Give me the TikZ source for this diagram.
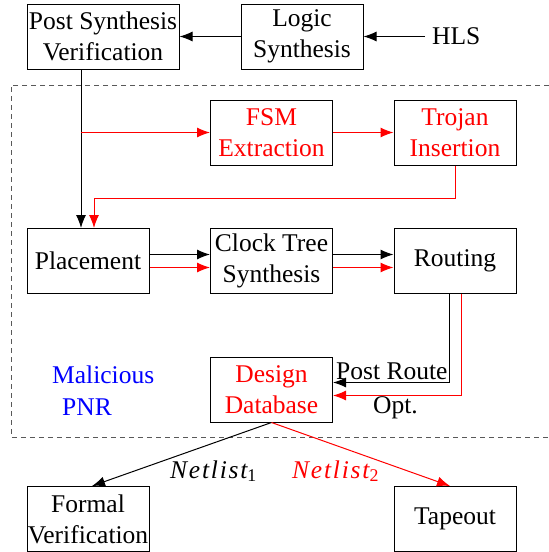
\documentclass[tikz,border=0pt]{standalone}
\usepackage{fontspec}
\setmainfont{Liberation Serif}
\usetikzlibrary{arrows.meta}
\newcommand{\netlab}[1]{{\itshape\addfontfeatures{LetterSpace=7}Netlist}\textsubscript{#1}}
\begin{document}
\begin{tikzpicture}[x=1pt,y=-1pt,
  txt/.style={font=\fontsize{25.5}{31}\selectfont},
  box/.style={txt, draw=black, line width=1pt, minimum width=122pt, minimum height=65pt, inner sep=0pt, align=center},
  lbl/.style={txt, inner sep=0pt},
  arr/.style={-{Latex[length=13pt,width=10pt]}, line width=1pt},
  blk/.style={arr, draw=black},
  rd/.style={arr, draw=red},
  frame/.style={draw=black!65, line width=1pt, dash pattern=on 5pt off 4pt}]
\useasboundingbox (0,0) rectangle (549,552);
% dashed region
\draw[frame] (549,85) -- (11,85) -- (11,437) -- (549,437);
% nodes
\node[box, minimum width=152pt] (psv) at (103,36.5) {Post Synthesis\\Verification};
\node[box] (ls) at (302,36.5) {Logic\\Synthesis};
\node[lbl, inner xsep=7pt, anchor=west] (hls) at (425,36.5) {HLS};
\node[box, text=red] (fsm) at (271.5,132.5) {FSM\\Extraction};
\node[box, text=red] (troj) at (455,132.5) {Trojan\\Insertion};
\node[box] (plc) at (88,261) {Placement};
\node[box] (cts) at (271.5,261) {Clock Tree\\Synthesis};
\node[box] (rout) at (455,261) {Routing};
\node[box, text=red] (ddb) at (271.5,389.5) {Design\\Database};
\node[box] (fv) at (88,519) {Formal\\Verification};
\node[box] (tap) at (455,519) {Tapeout};
\node[lbl, anchor=base west] (pr) at (336,379) {Post Route};
\node[lbl, anchor=base west] (opt) at (373,413) {Opt.};
\node[lbl, anchor=base west, text=blue] (mal) at (52,383) {Malicious};
\node[lbl, anchor=base west, text=blue] (pnr) at (62,415) {PNR};
\node[lbl, anchor=base west] (n1) at (170,478) {\netlab{1}};
\node[lbl, anchor=base west, text=red] (n2) at (292,478) {\netlab{2}};
% connectors
\draw[blk] (hls.west) -- (ls.east);
\draw[blk] (ls.west) -- (psv.east);
\coordinate (pin) at ([xshift=-7pt]plc.north);
\draw[blk] (psv.south -| pin) -- (pin);
\draw[rd] (pin |- fsm.west) -- (fsm.west);
\draw[rd] (fsm.east) -- (troj.west);
\draw[rd] (troj.south) -- ++(0,33) -| ([xshift=6pt]plc.north);
\draw[blk] ([yshift=6.5pt]plc.east) -- ([yshift=6.5pt]cts.west);
\draw[rd] ([yshift=-6.5pt]plc.east) -- ([yshift=-6.5pt]cts.west);
\draw[blk] ([yshift=6.5pt]cts.east) -- ([yshift=6.5pt]rout.west);
\draw[rd] ([yshift=-6.5pt]cts.east) -- ([yshift=-6.5pt]rout.west);
\draw[blk] ([xshift=-6pt]rout.south) |- ([yshift=7pt]ddb.east);
\draw[rd] ([xshift=6pt]rout.south) |- ([yshift=-6pt]ddb.east);
\draw[blk] (ddb.south) -- ([xshift=4pt]fv.north);
\draw[rd] (ddb.south) -- ([xshift=-5pt]tap.north);
\end{tikzpicture}
\end{document}
